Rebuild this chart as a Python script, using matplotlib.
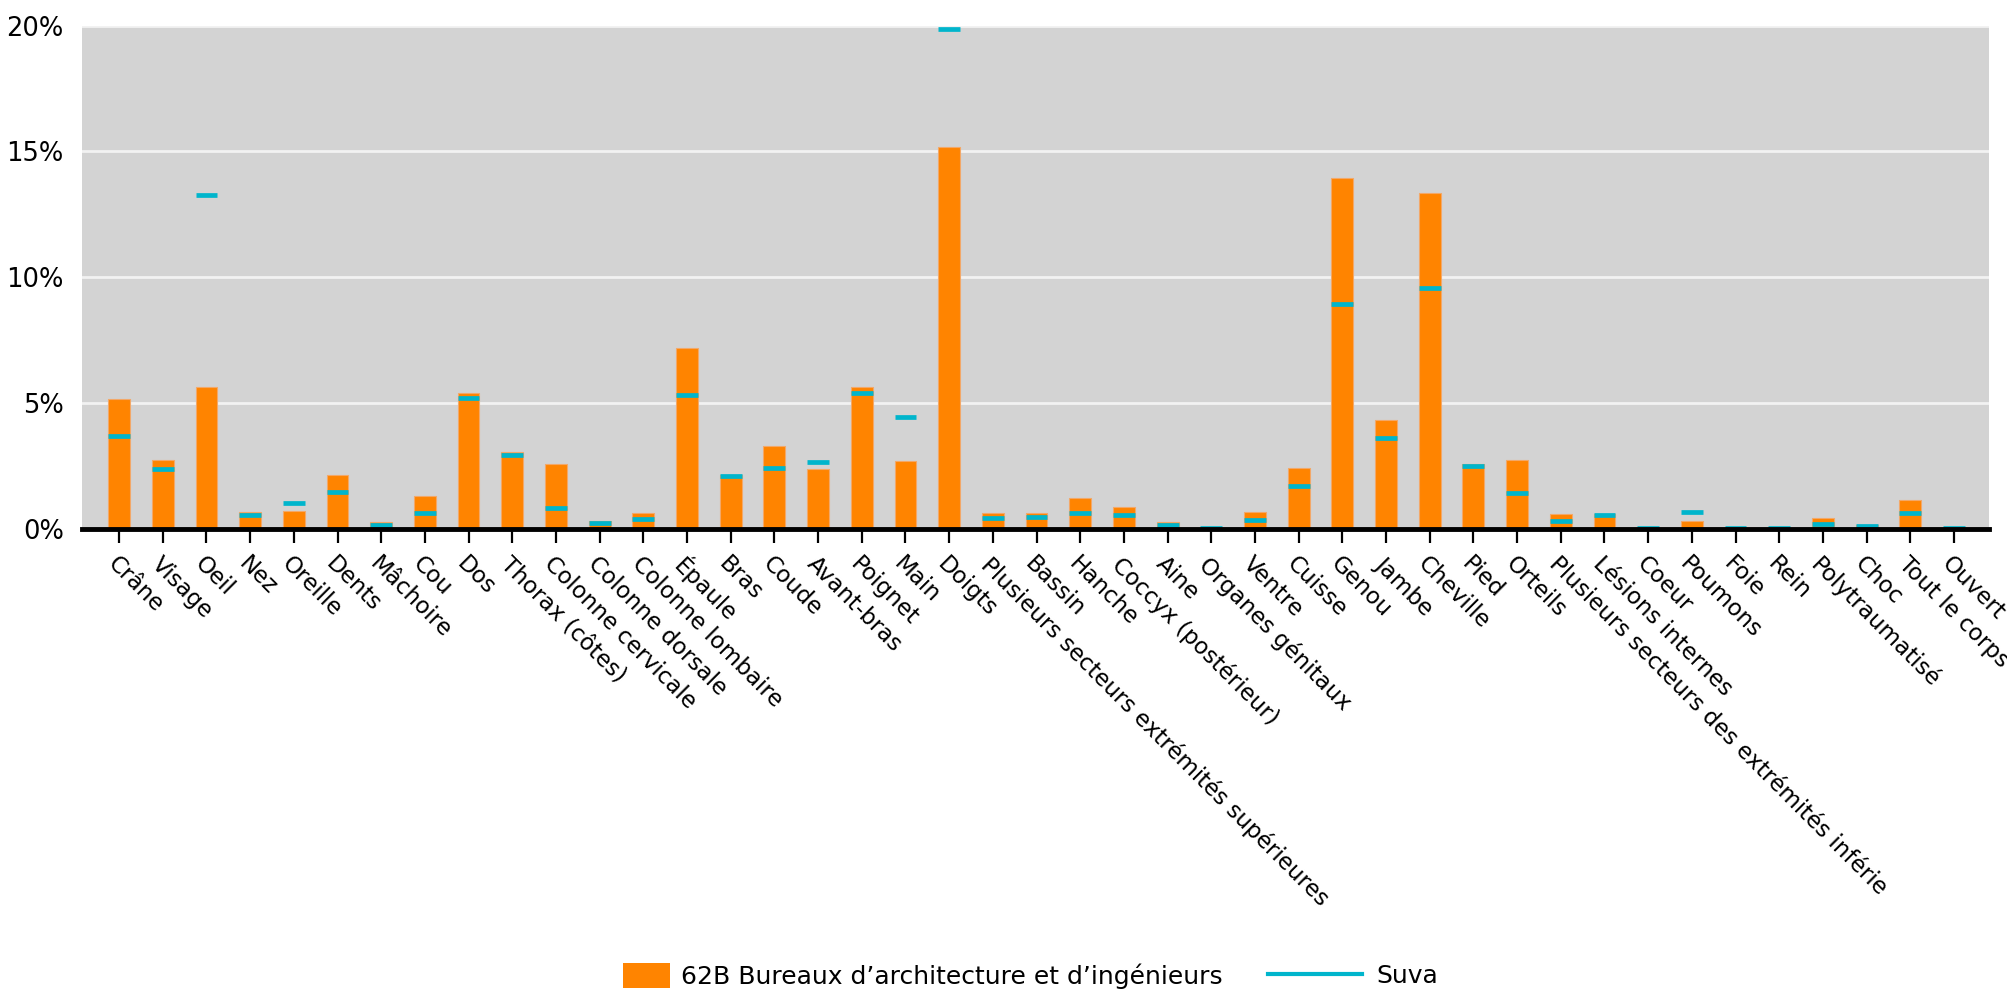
import matplotlib
matplotlib.use('Agg')
import matplotlib.pyplot as plt
import numpy as np
from matplotlib.patches import Patch
from matplotlib.lines import Line2D
from matplotlib.ticker import FuncFormatter

plt.rcParams['font.family'] = ['DejaVu Sans']

categories = ['Crâne', 'Visage', 'Oeil', 'Nez', 'Oreille', 'Dents', 'Mâchoire', 'Cou', 'Dos',
              'Thorax (côtes)', 'Colonne cervicale', 'Colonne dorsale', 'Colonne lombaire',
              'Épaule', 'Bras', 'Coude', 'Avant-bras', 'Poignet', 'Main', 'Doigts',
              'Plusieurs secteurs extrémités supérieures', 'Bassin', 'Hanche',
              'Coccyx (postérieur)', 'Aine', 'Organes génitaux', 'Ventre', 'Cuisse', 'Genou',
              'Jambe', 'Cheville', 'Pied', 'Orteils',
              'Plusieurs secteurs des extrémités inférie', 'Lésions internes', 'Coeur',
              'Poumons', 'Foie', 'Rein', 'Polytraumatisé', 'Choc', 'Tout le corps', 'Ouvert']

bureaux = [5.16, 2.76, 5.63, 0.66, 0.72, 2.16, 0.28, 1.30, 5.39, 3.07, 2.58, 0.31, 0.65,
           7.20, 2.16, 3.30, 2.40, 5.63, 2.69, 15.18, 0.63, 0.63, 1.24, 0.86, 0.28, 0.02,
           0.67, 2.42, 13.95, 4.33, 13.36, 2.58, 2.75, 0.58, 0.61, 0.0, 0.31, 0.0, 0.0,
           0.42, 0.18, 1.16, 0.0]
suva = [3.70, 2.38, 13.26, 0.56, 1.04, 1.49, 0.17, 0.65, 5.19, 2.93, 0.82, 0.25, 0.39,
        5.31, 2.12, 2.42, 2.66, 5.39, 4.46, 19.86, 0.42, 0.48, 0.65, 0.55, 0.17, 0.05,
        0.34, 1.69, 8.93, 3.61, 9.59, 2.51, 1.42, 0.32, 0.55, 0.04, 0.69, 0.03, 0.03,
        0.21, 0.13, 0.62, 0.04]

orange = '#ff8400'
cyan = '#00b5cc'

fig = plt.figure(figsize=(20.08, 9.92), dpi=100)
ax = fig.add_axes([0.0408, 0.4667, 0.9497, 0.5075])
ax.set_facecolor('#d3d3d3')

x = np.arange(len(categories))
w = 0.5
ax.bar(x, bureaux, width=w, color=orange, edgecolor='#f3a868', linewidth=0.8, zorder=2)
ax.hlines(suva, x - w / 2, x + w / 2, color=cyan, linewidth=3.4, zorder=3)

ax.set_ylim(0, 20)
ax.set_xlim(-0.85, len(categories) - 0.2)
ax.set_yticks([0, 5, 10, 15, 20])
ax.yaxis.set_major_formatter(FuncFormatter(lambda v, p: '%d%%' % v))
ax.grid(axis='y', color='#f2f2f2', linewidth=2, zorder=1)
ax.set_axisbelow(True)

for s in ['top', 'right', 'left']:
    ax.spines[s].set_visible(False)
ax.spines['bottom'].set_linewidth(3.5)
ax.spines['bottom'].set_zorder(4)

ax.tick_params(axis='y', length=0, labelsize=18.5, pad=13)
ax.tick_params(axis='x', length=10, width=1.6, labelsize=16.6, pad=7)
ax.set_xticks(x)
ax.set_xticklabels(categories, rotation=-45, ha='left', va='top', rotation_mode='anchor')

h1 = Patch(facecolor=orange, edgecolor='none')
h2 = Line2D([], [], color=cyan, linewidth=3)
fig.legend(handles=[h1], labels=['62B Bureaux d’architecture et d’ingénieurs'],
           loc='center left', bbox_to_anchor=(0.3105, 0.016), frameon=False,
           fontsize=18, handlelength=1.85, handleheight=1.15, handletextpad=0.45,
           borderpad=0, borderaxespad=0)
fig.legend(handles=[h2], labels=['Suva'], loc='center left', bbox_to_anchor=(0.6315, 0.016),
           frameon=False, fontsize=18, handlelength=3.75, handletextpad=0.6,
           borderpad=0, borderaxespad=0)

fig.savefig('out.png', dpi=100)
